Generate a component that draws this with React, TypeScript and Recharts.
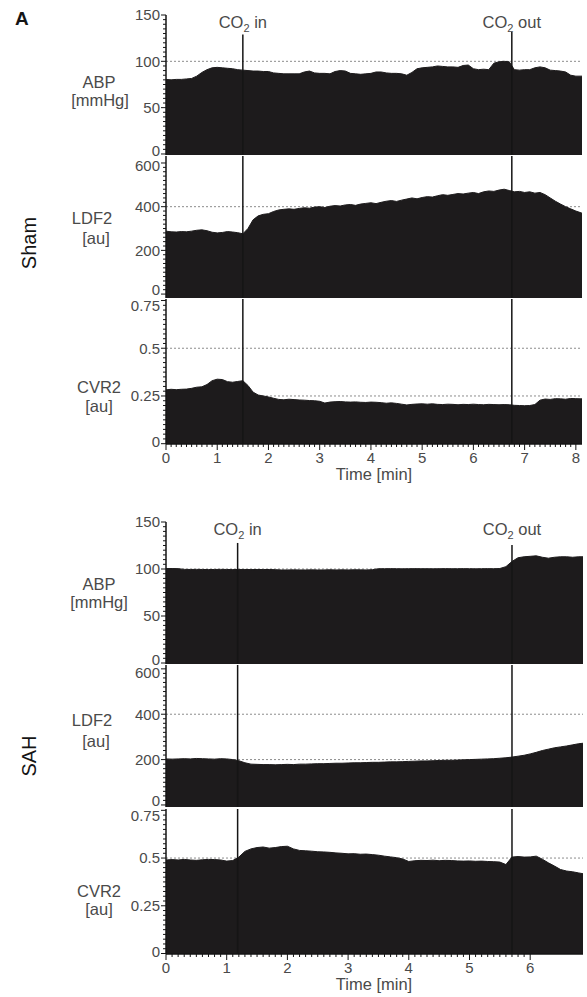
import React from 'react';
import { AreaChart, Area, XAxis, YAxis, CartesianGrid, ReferenceLine } from 'recharts';

const FONT = '"Liberation Sans", Arial, Helvetica, sans-serif';
const TEXT = '#4a4a4a';
const FILL = '#1d1b1c';
const INK = '#151515';

// ---------- time bases (min) ----------
const shamTime = [
  0, 0.1, 0.2, 0.3, 0.4, 0.5, 0.6, 0.7, 0.8, 0.9,
  1.0, 1.1, 1.2, 1.3, 1.4, 1.5, 1.6, 1.7, 1.8, 1.9,
  2.0, 2.1, 2.2, 2.3, 2.4, 2.5, 2.6, 2.7, 2.8, 2.9,
  3.0, 3.1, 3.2, 3.3, 3.4, 3.5, 3.6, 3.7, 3.8, 3.9,
  4.0, 4.1, 4.2, 4.3, 4.4, 4.5, 4.6, 4.7, 4.8, 4.9,
  5.0, 5.1, 5.2, 5.3, 5.4, 5.5, 5.6, 5.7, 5.8, 5.9,
  6.0, 6.1, 6.2, 6.3, 6.4, 6.5, 6.6, 6.7, 6.8, 6.9,
  7.0, 7.1, 7.2, 7.3, 7.4, 7.5, 7.6, 7.7, 7.8, 7.9,
  8.0, 8.1, 8.12,
];
const sahTime = [
  0, 0.1, 0.2, 0.3, 0.4, 0.5, 0.6, 0.7, 0.8, 0.9,
  1.0, 1.1, 1.2, 1.3, 1.4, 1.5, 1.6, 1.7, 1.8, 1.9,
  2.0, 2.1, 2.2, 2.3, 2.4, 2.5, 2.6, 2.7, 2.8, 2.9,
  3.0, 3.1, 3.2, 3.3, 3.4, 3.5, 3.6, 3.7, 3.8, 3.9,
  4.0, 4.1, 4.2, 4.3, 4.4, 4.5, 4.6, 4.7, 4.8, 4.9,
  5.0, 5.1, 5.2, 5.3, 5.4, 5.5, 5.6, 5.7, 5.8, 5.9,
  6.0, 6.1, 6.2, 6.3, 6.4, 6.5, 6.6, 6.7, 6.8, 6.87,
];

// ---------- Sham ----------
const shamABP = [
  80.5, 80, 80.5, 80.5, 81, 81.5, 84, 88, 91, 93,
  93.5, 93, 92.5, 92, 91, 90.5, 90, 89.5, 89.5, 89,
  89, 87.5, 87, 86.5, 86.5, 86.5, 86.5, 88.5, 89.5, 87.5,
  87, 87, 86.5, 89, 90, 89.5, 87, 86.5, 86, 86.5,
  87, 88.5, 88.5, 87.5, 87, 87, 86.5, 85, 88, 92,
  93, 93.5, 94, 95, 94.5, 94, 94, 93.5, 95.5, 96,
  92, 91, 91.5, 91, 98, 99.5, 100, 99.5, 91, 90.5,
  91, 91, 93, 94, 93, 90.5, 90, 89.5, 88.5, 85,
  84, 84, 84,
];
const shamLDF2 = [
  288, 285, 284, 286, 285, 288, 292, 294, 290, 283,
  280, 282, 286, 284, 281, 276, 300, 340, 358, 365,
  368, 378, 385, 388, 390, 388, 392, 395, 393, 398,
  400, 396, 402, 405, 403, 408, 410, 406, 412, 415,
  418, 414, 420, 425, 428, 424, 430, 435, 440, 436,
  442, 446, 444, 450, 455, 452, 456, 460, 458, 462,
  465, 460, 468, 472, 470, 476, 480, 474, 468, 470,
  465, 468, 462, 465, 455, 440, 425, 412, 400, 390,
  380, 372, 370,
];
const shamCVR2 = [
  0.282, 0.285, 0.283, 0.285, 0.286, 0.29, 0.296, 0.298, 0.31, 0.33,
  0.338, 0.336, 0.325, 0.322, 0.326, 0.33, 0.305, 0.27, 0.255, 0.25,
  0.245, 0.238, 0.232, 0.23, 0.233, 0.231, 0.229, 0.228, 0.226, 0.225,
  0.222, 0.213, 0.218, 0.22, 0.221, 0.219, 0.218, 0.219, 0.217, 0.216,
  0.218, 0.217, 0.215, 0.212, 0.214, 0.211, 0.207, 0.203, 0.206, 0.208,
  0.209, 0.207, 0.209, 0.206, 0.205, 0.207, 0.206, 0.204, 0.206, 0.205,
  0.207, 0.205, 0.204, 0.206, 0.205, 0.204, 0.205, 0.204, 0.201, 0.2,
  0.199, 0.2, 0.205, 0.228, 0.234, 0.232, 0.236, 0.235, 0.233, 0.237,
  0.236, 0.235, 0.235,
];

// ---------- SAH ----------
const sahABP = [
  100.5, 100.5, 100.4, 99.6, 99.5, 99.6, 99.5, 99.4, 99.5, 99.6,
  99.5, 99.4, 99.5, 99.5, 99.4, 99.5, 99.4, 99.5, 99.3, 99.0,
  99.0, 99.1, 99.0, 99.0, 99.1, 99.0, 99.0, 99.2, 99.0, 99.1,
  99.0, 99.2, 99.1, 99.0, 99.3, 100.3, 100.3, 100.4, 100.3, 100.2,
  100.3, 100.4, 100.3, 100.3, 100.2, 100.3, 100.4, 100.3, 100.3, 100.4,
  100.3, 100.2, 100.3, 100.4, 100.3, 100.5, 102.5, 108, 112, 113,
  113.5, 114, 112.5, 111.5, 112.5, 113, 113, 112.5, 113, 113,
];
const sahLDF2 = [
  203, 202, 203, 204, 203, 205, 204, 203, 202, 204,
  203, 200, 195, 186, 180, 179, 178, 178, 177, 178,
  179, 178, 180, 180, 181, 182, 182, 183, 184, 184,
  185, 186, 186, 187, 188, 188, 189, 190, 190, 191,
  192, 193, 194, 194, 195, 196, 197, 197, 198, 199,
  200, 201, 202, 203, 204, 206, 208, 211, 215, 219,
  225, 232, 240, 246, 252, 256, 260, 265, 270, 272,
];
const sahCVR2 = [
  0.49, 0.492, 0.49, 0.493, 0.49, 0.488, 0.491, 0.493, 0.492, 0.49,
  0.484, 0.487, 0.505, 0.535, 0.548, 0.555, 0.558, 0.552, 0.555, 0.56,
  0.562, 0.548, 0.54, 0.538, 0.536, 0.533, 0.532, 0.53, 0.527, 0.525,
  0.522, 0.523, 0.52, 0.521, 0.518, 0.515, 0.51, 0.506, 0.502, 0.495,
  0.482, 0.486, 0.488, 0.487, 0.489, 0.486, 0.488, 0.487, 0.485, 0.484,
  0.485, 0.483, 0.484, 0.482, 0.481, 0.479, 0.466, 0.505, 0.508, 0.505,
  0.506, 0.51, 0.494, 0.475, 0.458, 0.44, 0.432, 0.428, 0.422, 0.418,
];

// ---------- ticks / labels ----------
const abpTicks = [0, 50, 100, 150];
const abpLabels = ['0', '50', '100', '150'];
const ldfTicks = [0, 200, 400, 600];
const ldfLabels = ['0', '200', '400', '600'];
const cvrTicks = [0, 0.25, 0.5, 0.75];
const cvrLabels = ['0', '0.25', '0.5', '0.75'];
const shamMinutes = [0, 1, 2, 3, 4, 5, 6, 7, 8];
const sahMinutes = [0, 1, 2, 3, 4, 5, 6];

const shamCO2 = [1.5, 6.75];
const sahCO2 = [1.18, 5.7];
const co2Names = ['in', 'out'];

const withMinor = (majors: number[], div: number) => {
  const out: number[] = [];
  for (let i = 0; i < majors.length - 1; i++) {
    const a = majors[i];
    const b = majors[i + 1];
    for (let k = 0; k < div; k++) out.push(+(a + ((b - a) * k) / div).toFixed(6));
  }
  out.push(majors[majors.length - 1]);
  return out;
};

const YTick = (props: any) => {
  const { x, y, payload, majors, labels, topNudge, bottomNudge } = props;
  const v = payload.value;
  const idx = majors.findIndex((m: number) => Math.abs(m - v) < 1e-9);
  const major = idx >= 0;
  // keep the end labels of stacked panels from touching each other
  const nudge = idx === 0 ? bottomNudge : idx === majors.length - 1 ? topNudge : 0;
  return (
    <g>
      <line x1={x - (major ? 5 : 3)} x2={x} y1={y} y2={y} stroke={INK} strokeWidth={1} />
      {major && (
        <text x={x - 6} y={y + nudge} dy="0.36em" textAnchor="end" fontSize={15} fill={TEXT} fontFamily={FONT}>
          {labels[idx]}
        </text>
      )}
    </g>
  );
};

const XTick = (props: any) => {
  const { x, y, payload, majors } = props;
  const v = payload.value;
  const major = majors.some((m: number) => Math.abs(m - v) < 1e-9);
  return (
    <g>
      <line x1={x} x2={x} y1={y} y2={y + (major ? 6 : 3)} stroke={INK} strokeWidth={1} />
      {major && (
        <text x={x} y={y + 19} textAnchor="middle" fontSize={15} fill={TEXT} fontFamily={FONT}>
          {String(v)}
        </text>
      )}
    </g>
  );
};

const Co2Label = (props: any) => {
  const { viewBox, name } = props;
  const cx = viewBox.x + (viewBox.width || 0) / 2;
  const ty = viewBox.y + 12.5;
  return (
    <text x={cx} y={ty} textAnchor="middle" fontSize={16.5} fill={TEXT} fontFamily={FONT}>
      <tspan>CO</tspan>
      <tspan dy={4} fontSize={11}>2</tspan>
      <tspan dy={-4}>{' ' + name}</tspan>
    </text>
  );
};

type PanelProps = {
  time: number[];
  values: number[];
  top: number;
  height: number;
  domain: [number, number];
  majors: number[];
  labels: string[];
  grid: number[];
  xMax: number;
  right: number;
  co2: number[];
  co2Top?: number[];
  showX?: boolean;
  minutes?: number[];
  topNudge: number;
  bottomNudge: number;
};

const PAD = 20;
const XAXIS_H = 45;

const Panel = (p: PanelProps) => {
  const data = p.time.map((t, i) => ({ t, v: p.values[i] }));
  const bottom = p.showX ? 0 : 10;
  const h = PAD + p.height + (p.showX ? XAXIS_H : 10);
  const yTicks = withMinor(p.majors, 10);
  const xTicks = p.minutes ? withMinor(p.minutes, 10) : [];
  return (
    <div style={{ position: 'absolute', left: 0, top: p.top - PAD, width: 587, height: h }}>
      <AreaChart width={587} height={h} data={data} margin={{ top: PAD, right: p.right, bottom, left: 0 }}>
        <CartesianGrid vertical={false} horizontalValues={p.grid} stroke="#8c8c8c" strokeDasharray="2 2" strokeWidth={1} />
        <XAxis
          dataKey="t"
          type="number"
          domain={[0, p.xMax]}
          allowDataOverflow
          hide={!p.showX}
          height={XAXIS_H}
          ticks={xTicks}
          interval={0}
          tickSize={0}
          tickMargin={0}
          tickLine={false}
          axisLine={{ stroke: INK, strokeWidth: 1.5 }}
          tick={(tp: any) => <XTick {...tp} majors={p.minutes || []} />}
        />
        <YAxis
          type="number"
          domain={p.domain}
          allowDataOverflow
          width={166}
          ticks={yTicks}
          interval={0}
          tickSize={0}
          tickMargin={0}
          tickLine={false}
          axisLine={{ stroke: INK, strokeWidth: 1.5 }}
          tick={(tp: any) => (
            <YTick {...tp} majors={p.majors} labels={p.labels} topNudge={p.topNudge} bottomNudge={p.bottomNudge} />
          )}
        />
        <Area
          dataKey="v"
          type="linear"
          stroke={FILL}
          strokeWidth={1}
          fill={FILL}
          fillOpacity={1}
          baseValue={p.domain[0]}
          dot={false}
          activeDot={false}
          isAnimationActive={false}
        />
        {p.co2.map((cx, i) =>
          p.co2Top ? (
            <ReferenceLine
              key={'s' + i}
              segment={[
                { x: cx, y: p.domain[0] },
                { x: cx, y: p.co2Top[i] },
              ]}
              stroke={INK}
              strokeWidth={1.5}
            />
          ) : (
            <ReferenceLine key={'l' + i} x={cx} stroke={INK} strokeWidth={1.5} />
          )
        )}
        {p.co2Top &&
          p.co2.map((cx, i) => (
            <ReferenceLine
              key={'lab' + i}
              x={cx}
              stroke="none"
              label={(lp: any) => <Co2Label {...lp} name={co2Names[i]} />}
            />
          ))}
      </AreaChart>
    </div>
  );
};

const T = (props: any) => (
  <text textAnchor="middle" fontSize={16.5} fill={TEXT} fontFamily={FONT} {...props} />
);

export default function App() {
  return (
    <div style={{ position: 'absolute', left: 0, top: 0, width: 587, height: 997, background: '#fff', overflow: 'hidden' }}>
      <svg width={587} height={997} style={{ position: 'absolute', left: 0, top: 0 }}>
        <text x={15} y={25} fontSize={19} fontWeight="bold" fill={INK} fontFamily={FONT}>A</text>
        <text transform="translate(36,243) rotate(-90)" textAnchor="middle" fontSize={20} fill={INK} fontFamily={FONT}>Sham</text>
        <text transform="translate(36,756) rotate(-90)" textAnchor="middle" fontSize={20} fill={INK} fontFamily={FONT}>SAH</text>
        <T x={99} y={88}>ABP</T>
        <T x={100} y={106}>[mmHg]</T>
        <T x={92} y={224}>LDF2</T>
        <T x={96} y={244}>[au]</T>
        <T x={99} y={393}>CVR2</T>
        <T x={99} y={412}>[au]</T>
        <T x={374} y={480}>Time [min]</T>
        <T x={99} y={590}>ABP</T>
        <T x={99} y={608}>[mmHg]</T>
        <T x={92} y={726}>LDF2</T>
        <T x={96} y={747}>[au]</T>
        <T x={99} y={897}>CVR2</T>
        <T x={99} y={915}>[au]</T>
        <T x={374} y={990}>Time [min]</T>
      </svg>

      <Panel time={shamTime} values={shamABP} top={15} height={140} domain={[-1.1, 150]} majors={abpTicks} labels={abpLabels} grid={[50, 100]} xMax={8.12} right={5} co2={shamCO2} co2Top={[129, 132]} topNudge={0} bottomNudge={-3} />
      <Panel time={shamTime} values={shamLDF2} top={156} height={142} domain={[-18, 632]} majors={ldfTicks} labels={ldfLabels} grid={[200, 400]} xMax={8.12} right={5} co2={shamCO2} topNudge={3} bottomNudge={-4} />
      <Panel time={shamTime} values={shamCVR2} top={299} height={145} domain={[-0.0016, 0.758]} majors={cvrTicks} labels={cvrLabels} grid={[0.25, 0.5]} xMax={8.12} right={5} co2={shamCO2} showX minutes={shamMinutes} topNudge={5} bottomNudge={-2} />

      <Panel time={sahTime} values={sahABP} top={522} height={142} domain={[-1.06, 150]} majors={abpTicks} labels={abpLabels} grid={[50, 100]} xMax={6.87} right={4} co2={sahCO2} co2Top={[127.7, 125.5]} topNudge={0} bottomNudge={-3} />
      <Panel time={sahTime} values={sahLDF2} top={665} height={142} domain={[-9, 617]} majors={ldfTicks} labels={ldfLabels} grid={[200, 400]} xMax={6.87} right={4} co2={sahCO2} topNudge={4} bottomNudge={-4} />
      <Panel time={sahTime} values={sahCVR2} top={809} height={145} domain={[-0.0026, 0.757]} majors={cvrTicks} labels={cvrLabels} grid={[0.5]} xMax={6.87} right={4} co2={sahCO2} showX minutes={sahMinutes} topNudge={5} bottomNudge={-2} />
    </div>
  );
}
